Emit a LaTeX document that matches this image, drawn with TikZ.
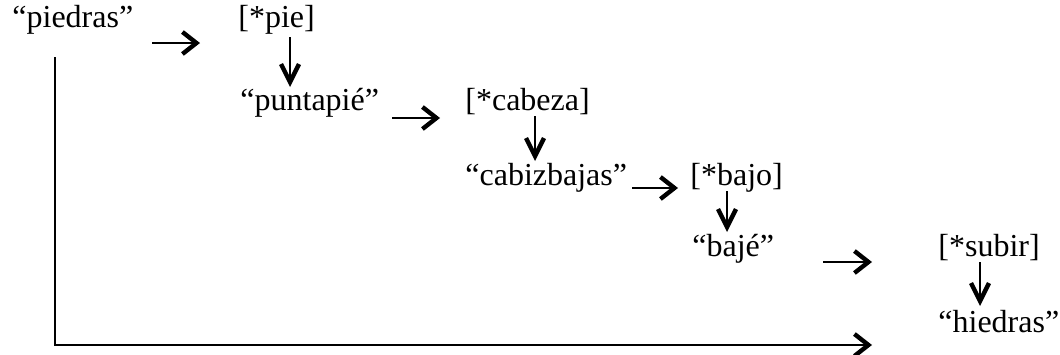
\documentclass[tikz,border=0pt]{standalone}
\usepackage{fontspec}
\setmainfont{Liberation Serif}
\usetikzlibrary{arrows.meta,calc}
\tikzset{word/.style={anchor=base west,inner sep=0pt,font=\fontsize{16}{19}\selectfont},
  harrow/.style={-{Straight Barb[length=7pt,width=11pt,line width=2.2pt]},line width=1.3pt},
  varrow/.style={-{Straight Barb[length=9pt,width=9pt,line width=2.2pt]},line width=0.8pt}}

\begin{document}
\begin{tikzpicture}[x=0.5pt,y=-0.5pt]
  \useasboundingbox (0,0) rectangle (1060,354);
  \node[word] (piedras) at (12,27) {“piedras”};
  \node[word] (pie) at (238,27) {[*pie]};
  \node[word] (puntapie) at (240,110) {“puntapié”};
  \node[word] (cabeza) at (465,110) {[*cabeza]};
  \node[word] (cabizbajas) at (465,185) {“cabizbajas”};
  \node[word] (bajo) at (690,185) {[*bajo]};
  \node[word] (baje) at (692,256) {“bajé”};
  \node[word] (subir) at (938,256) {[*subir]};
  \node[word] (hiedras) at (938,332) {“hiedras”};
  % horizontal steps
  \draw[harrow] ($(pie.base west)+(-86,16)$) -- ($(pie.base west)+(-38,16)$);
  \draw[harrow] ($(cabeza.base west)+(-73,8)$) -- ($(cabeza.base west)+(-25,8)$);
  \draw[harrow] ($(bajo.base west)+(-58,3)$) -- ($(bajo.base west)+(-12,3)$);
  \draw[harrow] ($(subir.base west)+(-115,6)$) -- ($(subir.base west)+(-66,6)$);
  % vertical steps
  \draw[varrow] ($(pie.base west)+(52,10)$) -- ($(puntapie.base west -| pie.base west)+(52,-23)$);
  \draw[varrow] ($(cabeza.base west)+(70,6)$) -- ($(cabizbajas.base west -| cabeza.base west)+(70,-24)$);
  \draw[varrow] ($(bajo.base west)+(37,6)$) -- ($(baje.base west -| bajo.base west)+(37,-24)$);
  \draw[varrow] ($(subir.base west)+(42,6)$) -- ($(hiedras.base west -| subir.base west)+(42,-26)$);
  % long way round
  \coordinate (corner) at (55,345);
  \coordinate (end) at (872,345);
  \draw[harrow,line width=1pt] ($(piedras.base west -| corner)+(0,30)$) -- (corner) -- (end);
\end{tikzpicture}
\end{document}
